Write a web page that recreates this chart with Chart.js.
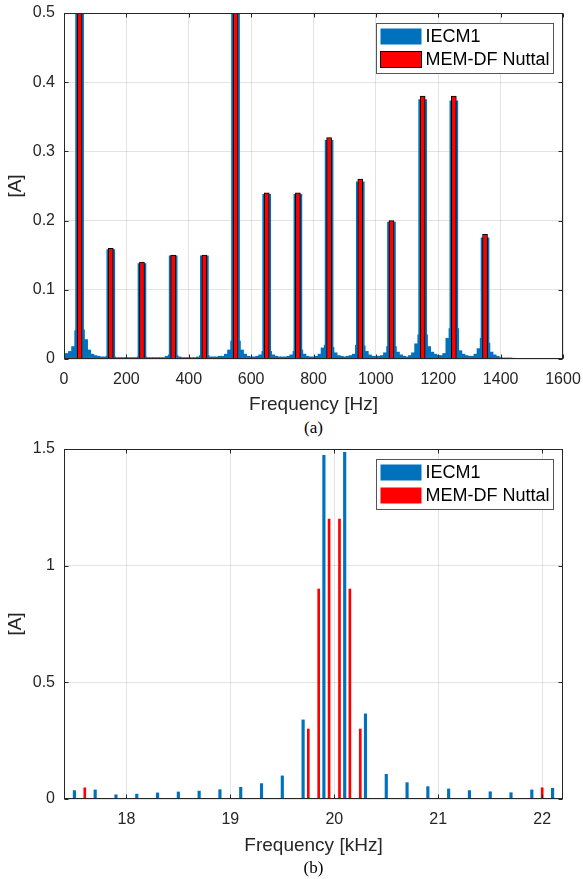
<!DOCTYPE html>
<html>
<head>
<meta charset="utf-8">
<script src="https://cdn.jsdelivr.net/npm/chart.js@4.4.1/dist/chart.umd.min.js"></script>
<style>
  html, body { margin: 0; padding: 0; background: #fff; }
  #page { position: relative; width: 583px; height: 879px; overflow: hidden; }
  .box { position: absolute; left: 0; width: 583px; }
  .cap { position: absolute; left: 64px; width: 499px; text-align: center; color: #000;
         font: 17px "Liberation Serif", "Times New Roman", serif; line-height: 20px; }
</style>
</head>
<body>
<div id="page">
  <div class="box" style="top:0;height:418px"><canvas id="chartA" width="583" height="418"></canvas></div>
  <div class="cap" style="top:418px">(a)</div>
  <div class="box" style="top:436px;height:423px"><canvas id="chartB" width="583" height="423"></canvas></div>
  <div class="cap" style="top:858px">(b)</div>
</div>
<script>
// (a) low-frequency harmonics [Hz] / [A]
const harmFreqA = [50, 150, 250, 350, 450, 550, 650, 750, 850, 950, 1050, 1150, 1250, 1350];
const memA  = [0.9, 0.160, 0.140, 0.150, 0.150, 0.9, 0.240, 0.240, 0.320, 0.260, 0.200, 0.380, 0.380, 0.180];
const iecmA = [0.9, 0.158, 0.138, 0.149, 0.149, 0.9, 0.238, 0.238, 0.316, 0.256, 0.198, 0.375, 0.373, 0.175];

// IECM1 spectral leakage between the harmonics, 10 Hz bins
const leakFreqA = [
  0, 10, 20, 30, 40, 50, 60, 70, 80, 90, 100, 110, 120, 130, 140, 150, 160, 170, 180, 190,
  200, 210, 220, 230, 240, 250, 260, 270, 280, 290, 300, 310, 320, 330, 340, 350, 360, 370, 380, 390,
  400, 410, 420, 430, 440, 450, 460, 470, 480, 490, 500, 510, 520, 530, 540, 550, 560, 570, 580, 590,
  600, 610, 620, 630, 640, 650, 660, 670, 680, 690, 700, 710, 720, 730, 740, 750, 760, 770, 780, 790,
  800, 810, 820, 830, 840, 850, 860, 870, 880, 890, 900, 910, 920, 930, 940, 950, 960, 970, 980, 990,
  1000, 1010, 1020, 1030, 1040, 1050, 1060, 1070, 1080, 1090, 1100, 1110, 1120, 1130, 1140, 1150, 1160, 1170, 1180, 1190,
  1200, 1210, 1220, 1230, 1240, 1250, 1260, 1270, 1280, 1290, 1300, 1310, 1320, 1330, 1340, 1350, 1360, 1370, 1380, 1390,
  1400, 1410, 1420, 1430, 1440, 1450, 1460, 1470, 1480, 1490, 1500
];
const leakA = [
  0.006, 0.008, 0.011, 0.018, 0.041, 0.040, 0.042, 0.028, 0.013, 0.007, 0.005, 0.004, 0.003, 0.003, 0.004, 0.004, 0.003, 0.002, 0.002, 0.002,
  0.002, 0.002, 0.002, 0.002, 0.003, 0.003, 0.003, 0.002, 0.002, 0.002, 0.002, 0.002, 0.002, 0.004, 0.006, 0.006, 0.005, 0.003, 0.002, 0.002,
  0.002, 0.002, 0.002, 0.003, 0.005, 0.005, 0.005, 0.003, 0.003, 0.003, 0.004, 0.004, 0.007, 0.013, 0.026, 0.026, 0.026, 0.013, 0.007, 0.004,
  0.003, 0.003, 0.004, 0.006, 0.011, 0.011, 0.011, 0.006, 0.004, 0.003, 0.003, 0.003, 0.004, 0.006, 0.011, 0.012, 0.013, 0.007, 0.004, 0.003,
  0.003, 0.004, 0.007, 0.016, 0.020, 0.020, 0.017, 0.009, 0.005, 0.004, 0.003, 0.004, 0.005, 0.007, 0.020, 0.020, 0.019, 0.011, 0.006, 0.004,
  0.004, 0.004, 0.005, 0.009, 0.018, 0.018, 0.018, 0.010, 0.006, 0.004, 0.003, 0.005, 0.009, 0.022, 0.035, 0.035, 0.035, 0.018, 0.010, 0.007,
  0.005, 0.005, 0.008, 0.030, 0.044, 0.044, 0.044, 0.012, 0.007, 0.005, 0.004, 0.004, 0.007, 0.015, 0.030, 0.030, 0.023, 0.010, 0.006, 0.004,
  0.002, 0.0015, 0.0015, 0.0015, 0.0012, 0.001, 0.001, 0.0008, 0.0005, 0.0003, 0
];
const xTicksA = [0, 200, 400, 600, 800, 1000, 1200, 1400, 1600];
const yTicksA = [0, 0.1, 0.2, 0.3, 0.4, 0.5];

// (b) switching-frequency band [kHz] / [A]
const iecmFreqB = [17.5, 17.7, 17.9, 18.1, 18.3, 18.5, 18.7, 18.9, 19.1, 19.3, 19.5, 19.7, 19.9,
                   20.1, 20.3, 20.5, 20.7, 20.9, 21.1, 21.3, 21.5, 21.7, 21.9, 22.1];
const iecmB = [0.036, 0.039, 0.018, 0.021, 0.026, 0.030, 0.034, 0.040, 0.050, 0.066, 0.099, 0.339, 1.473,
               1.486, 0.365, 0.106, 0.070, 0.053, 0.043, 0.036, 0.031, 0.027, 0.039, 0.046];
const memFreqB = [17.6, 19.75, 19.85, 19.95, 20.05, 20.15, 20.25, 22.0];
const memB = [0.048, 0.30, 0.90, 1.20, 1.20, 0.90, 0.30, 0.048];
const xTicksB = [18, 19, 20, 21, 22];
const yTicksB = [0, 0.5, 1, 1.5];

const BLUE = '#0072BD';
const RED = '#FF0000';
const INK = '#262626';

Chart.defaults.font.family = '"Liberation Sans", Arial, Helvetica, sans-serif';
Chart.defaults.color = INK;

const pts = (xs, ys) => xs.map((x, i) => ({ x, y: ys[i] }));
const fmt = v => String(+Number(v).toFixed(2));

// MATLAB-like box, inward ticks and boxed legend
const matlabAxes = {
  id: 'matlabAxes',
  afterDraw(chart, args, opts) {
    const { ctx, chartArea: a, scales: { x, y } } = chart;
    const L = Math.round(a.left) + 0.5, R = Math.round(a.right) - 0.5;
    const T = Math.round(a.top) + 0.5, B = Math.round(a.bottom) - 0.5;
    ctx.save();
    ctx.strokeStyle = INK;
    ctx.lineWidth = 1;
    ctx.strokeRect(L, T, R - L, B - T);
    ctx.beginPath();
    x.ticks.forEach(t => {
      const px = Math.round(x.getPixelForValue(t.value)) + 0.5;
      ctx.moveTo(px, B); ctx.lineTo(px, B - 4);
      ctx.moveTo(px, T); ctx.lineTo(px, T + 4);
    });
    y.ticks.forEach(t => {
      const py = Math.round(y.getPixelForValue(t.value)) + 0.5;
      ctx.moveTo(L, py); ctx.lineTo(L + 4, py);
      ctx.moveTo(R, py); ctx.lineTo(R - 4, py);
    });
    ctx.stroke();

    // legend
    const bx = Math.round(a.left + 312) + 0.5, by = Math.round(a.top + 10) + 0.5;
    const bw = 177, bh = 50;
    ctx.fillStyle = '#fff';
    ctx.fillRect(bx, by, bw, bh);
    ctx.strokeStyle = '#555';
    ctx.strokeRect(bx, by, bw, bh);
    ctx.font = '18px "Liberation Sans", Arial, sans-serif';
    ctx.textBaseline = 'middle';
    opts.items.forEach((di, k) => {
      const ds = chart.data.datasets[di];
      const sy = by + 5 + k * 23;
      ctx.fillStyle = ds.backgroundColor;
      ctx.fillRect(bx + 4, sy, 41, 16);
      if (ds.borderWidth) {
        ctx.strokeStyle = ds.borderColor;
        ctx.lineWidth = 1;
        ctx.strokeRect(bx + 4, sy, 41, 16);
      }
      ctx.fillStyle = '#000';
      ctx.fillText(ds.label, bx + 49, sy + 8.5);
    });
    ctx.restore();
  }
};

function axes(xMin, xMax, xTicks, yMax, yTicks, xTitle, axisH) {
  return {
    x: {
      type: 'linear', min: xMin, max: xMax, offset: false,
      afterBuildTicks: s => { s.ticks = xTicks.map(v => ({ value: v })); },
      afterFit: s => { s.height = axisH; },
      grid: { color: 'rgba(38,38,38,0.13)', drawTicks: true, tickLength: 11, tickColor: 'rgba(0,0,0,0)', offset: false },
      border: { display: false },
      ticks: { padding: 0, maxRotation: 0, autoSkip: false, font: { size: 16 }, callback: fmt },
      title: { display: true, text: xTitle, font: { size: 19 }, padding: { top: 0, bottom: 2 } }
    },
    y: {
      min: 0, max: yMax,
      afterBuildTicks: s => { s.ticks = yTicks.map(v => ({ value: v })); },
      afterFit: s => { s.width = 64; },
      grid: { color: 'rgba(38,38,38,0.13)', drawTicks: true, tickLength: 9, tickColor: 'rgba(0,0,0,0)' },
      border: { display: false },
      ticks: { padding: 0, font: { size: 16 }, callback: fmt },
      title: { display: true, text: '[A]', font: { size: 19 }, padding: { top: 4, bottom: 0 } }
    }
  };
}

new Chart(document.getElementById('chartA'), {
  type: 'bar',
  data: {
    datasets: [
      { label: 'MEM-DF Nuttal', data: pts(harmFreqA, memA), backgroundColor: RED,
        borderColor: '#000', borderWidth: 1, barThickness: 5, grouped: false, order: 0 },
      { label: 'IECM1', data: pts(harmFreqA, iecmA), backgroundColor: BLUE,
        borderWidth: 0, barThickness: 8, grouped: false, order: 1 },
      { label: 'IECM1 leakage', data: pts(leakFreqA, leakA), backgroundColor: BLUE,
        borderWidth: 0, barThickness: 3.6, grouped: false, order: 2 }
    ]
  },
  options: {
    responsive: false,
    animation: false,
    layout: { padding: { left: 0, right: 20, top: 13, bottom: 0 } },
    plugins: { legend: { display: false }, tooltip: { enabled: false }, matlabAxes: { items: [1, 0] } },
    scales: axes(0, 1600, xTicksA, 0.5, yTicksA, 'Frequency [Hz]', 59)
  },
  plugins: [matlabAxes]
});

new Chart(document.getElementById('chartB'), {
  type: 'bar',
  data: {
    datasets: [
      { label: 'IECM1', data: pts(iecmFreqB, iecmB), backgroundColor: BLUE,
        borderWidth: 0, barThickness: 2.5, grouped: false },
      { label: 'MEM-DF Nuttal', data: pts(memFreqB, memB), backgroundColor: RED,
        borderWidth: 0, barThickness: 2, grouped: false }
    ]
  },
  options: {
    responsive: false,
    animation: false,
    layout: { padding: { left: 0, right: 20, top: 13, bottom: 0 } },
    plugins: { legend: { display: false }, tooltip: { enabled: false }, matlabAxes: { items: [0, 1] } },
    scales: axes(17.4, 22.2, xTicksB, 1.5, yTicksB, 'Frequency [kHz]', 60)
  },
  plugins: [matlabAxes]
});
</script>
</body>
</html>
